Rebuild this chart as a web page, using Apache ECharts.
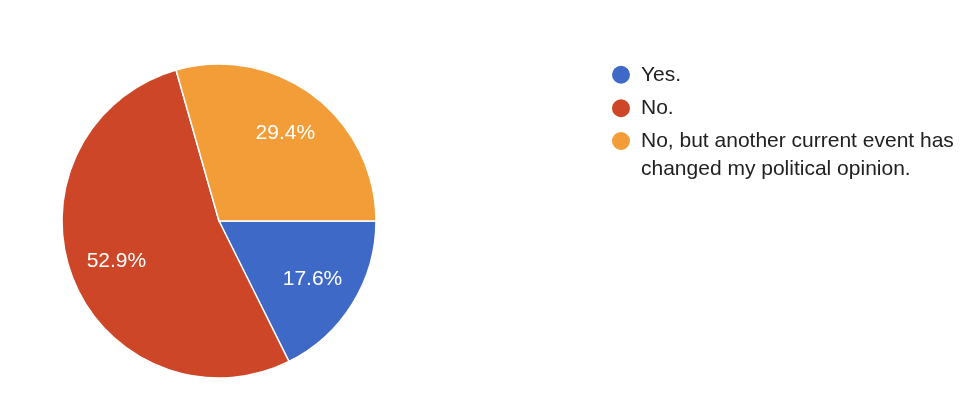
<!DOCTYPE html>
<html>
<head>
<meta charset="utf-8">
<script src="https://cdn.jsdelivr.net/npm/echarts@6/dist/echarts.min.js"></script>
<style>
  html, body { margin: 0; padding: 0; background: #fff; }
  #main { width: 980px; height: 417px; }
</style>
</head>
<body>
<div id="main"></div>
<script>
// answers and response counts (3 / 9 / 5 of 17)
const answers = [
  'Yes.',
  'No.',
  'No, but another current event has changed my political opinion.'
]
const counts = [3, 9, 5]
const colors = ['#3e69c7', '#cd4627', '#f29d38']

// long answer wrapped onto two lines; the leading blank line keeps the
// dot next to the first line instead of between the two
const wrapped = '\nNo, but another current event has\nchanged my political opinion.'

const pieData = answers.map((name, i) => ({ name: name, value: counts[i] }))
const font = 'Arial, "Liberation Sans", Helvetica, sans-serif'

const legendBase = {
  orient: 'vertical',
  left: 605,
  icon: 'circle',
  itemWidth: 30,
  itemHeight: 20,
  itemGap: 0,
  selectedMode: false,
}

let charts = echarts.init(document.getElementById('main'))
charts.setOption({
  color: colors,
  animation: false,
  tooltip: { show: false },
  legend: [
    {
      ...legendBase,
      top: 53,
      data: answers.slice(0, 2),
      textStyle: { fontFamily: font, fontSize: 21, color: '#212121', lineHeight: 33.5 },
    },
    {
      ...legendBase,
      top: 94,
      data: answers.slice(2),
      formatter: () => wrapped,
      textStyle: { fontFamily: font, fontSize: 21, color: '#212121', lineHeight: 28 },
    },
  ],
  series: [
    {
      type: 'pie',
      center: [219, 221],
      radius: 157,
      startAngle: 0,
      clockwise: true,
      avoidLabelOverlap: false,
      label: { show: false },
      labelLine: { show: false },
      itemStyle: { borderColor: '#fff', borderWidth: 1.5 },
      emphasis: { disabled: true },
      data: pieData,
    },
    {
      // transparent ring only used to place the percentage labels
      type: 'pie',
      center: [219, 221],
      radius: [57, 157],
      startAngle: 0,
      clockwise: true,
      silent: true,
      avoidLabelOverlap: false,
      itemStyle: { color: 'rgba(0,0,0,0)' },
      label: {
        show: true,
        position: 'inside',
        formatter: p => p.percent.toFixed(1) + '%',
        color: '#fff',
        fontFamily: font,
        fontSize: 21,
      },
      labelLine: { show: false },
      emphasis: { disabled: true },
      data: pieData,
    },
  ],
})
</script>
</body>
</html>
